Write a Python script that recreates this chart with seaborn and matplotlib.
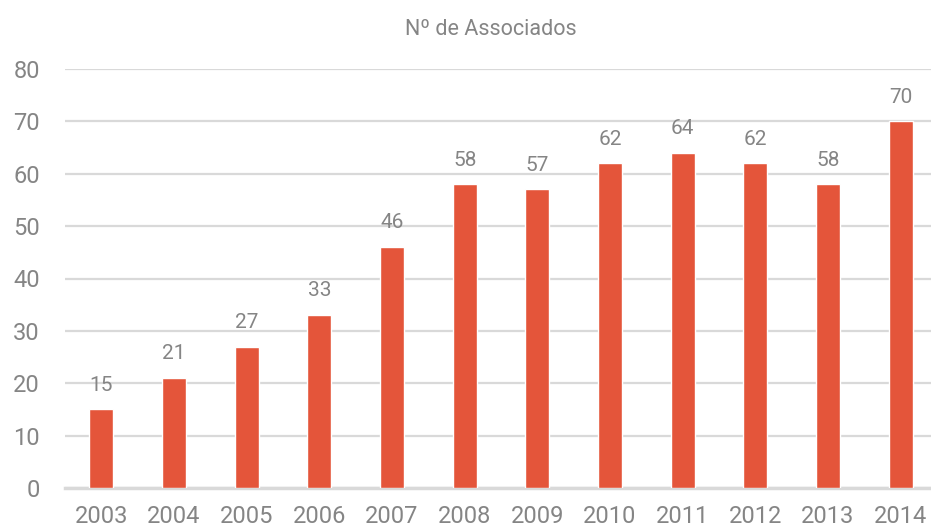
# Nº de Associados por ano - bar chart
import pandas as pd
import seaborn as sns
import matplotlib.pyplot as plt

years = ['2003', '2004', '2005', '2006', '2007', '2008', '2009', '2010', '2011', '2012', '2013', '2014']
associados = [15, 21, 27, 33, 46, 58, 57, 62, 64, 62, 58, 70]
y_ticks = [0, 10, 20, 30, 40, 50, 60, 70, 80]

df = pd.DataFrame({'ano': years, 'associados': associados})

sns.set_style('white')
plt.rcParams['font.family'] = ['Roboto', 'DejaVu Sans']

text_gray = '#858585'
grid_gray = '#D9D9D9'
bar_color = '#E4553A'

fig = plt.figure(figsize=(9.31, 5.28), dpi=100)
ax = fig.add_axes([65 / 931, 1 - 488 / 528, 872 / 931, (488 - 69) / 528])

sns.barplot(data=df, x='ano', y='associados', color=bar_color, width=0.33,
            saturation=1, ax=ax, zorder=3)

# labels above the bars
for i, v in enumerate(associados):
    ax.text(i, v + 2.8, str(v), ha='center', va='bottom', fontsize=15, color=text_gray)

ax.set_ylim(0, 80)
ax.set_xlim(-0.5, 11.5)
ax.set_yticks(y_ticks)
ax.set_yticklabels([str(t) for t in y_ticks])
ax.yaxis.grid(True, color=grid_gray, linewidth=1.6, zorder=0)
ax.set_axisbelow(True)
for side in ['top', 'right', 'left']:
    ax.spines[side].set_visible(False)
ax.spines['bottom'].set_color(grid_gray)
ax.spines['bottom'].set_linewidth(2.5)
ax.tick_params(axis='both', length=0, labelsize=17, colors=text_gray)
ax.tick_params(axis='y', pad=18)
ax.tick_params(axis='x', pad=12)
ax.set_xlabel('')
ax.set_ylabel('')

fig.text(0.527, 0.944, 'Nº de Associados', ha='center', va='center',
         fontsize=15.5, color=text_gray)

plt.savefig('out.png', dpi=100)
